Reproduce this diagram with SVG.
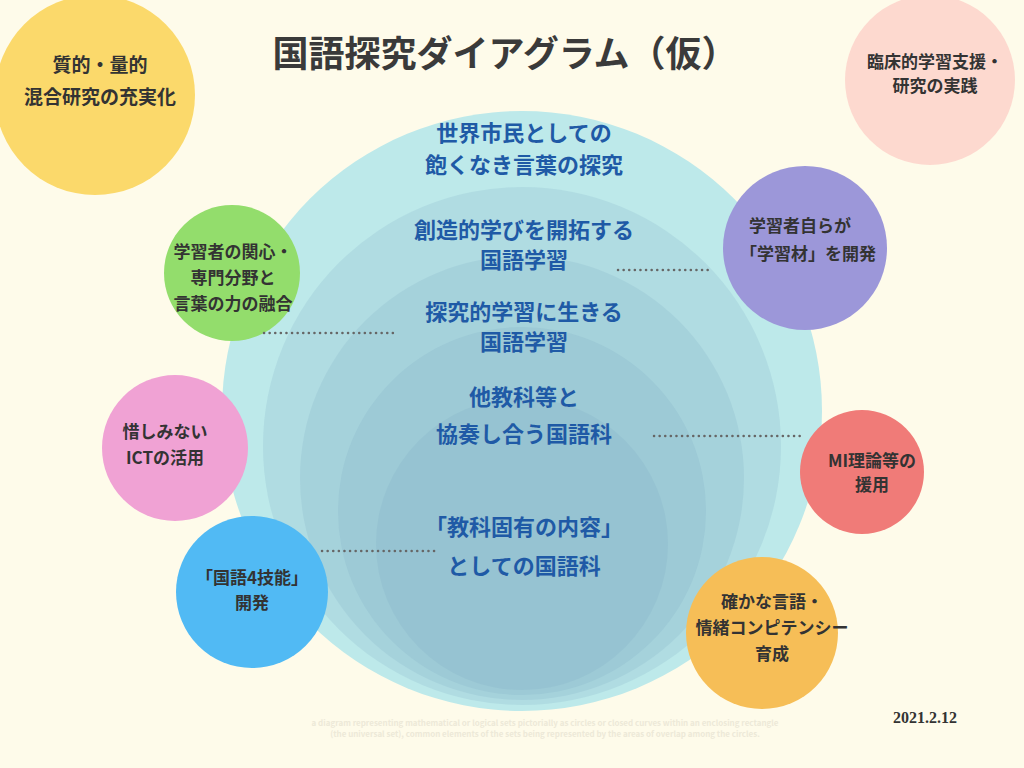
<svg xmlns="http://www.w3.org/2000/svg" width="1024" height="768" viewBox="0 0 1024 768">
<style>
text{font-family:"Noto Sans CJK JP","Noto Sans",sans-serif;font-weight:bold;text-anchor:middle}
.in{fill:#1f5aa6;font-size:22px}
.sd{fill:#333;font-size:17px}
.big{fill:#333;font-size:19px}
.ring{fill:#7fa9c4;fill-opacity:0.2}
.dot{stroke:#666;stroke-width:2.5;stroke-dasharray:0.1 5.5;stroke-linecap:round;fill:none}
</style>
<rect width="1024" height="768" fill="#fefbea"/>
<g id="sets">
<circle cx="522" cy="411" r="300" fill="#bde9ea"/>
<circle class="ring" cx="522" cy="446" r="259"/>
<circle class="ring" cx="522" cy="478" r="222"/>
<circle class="ring" cx="522" cy="511" r="184"/>
<circle class="ring" cx="522" cy="544" r="146"/>
</g>
<g id="n-yellow"><circle cx="95" cy="95" r="100" fill="#fbd96b"/><text class="big" x="100" y="72">質的・量的</text><text class="big" x="100" y="104">混合研究の充実化</text></g>
<g id="n-peach"><circle cx="930" cy="80" r="85" fill="#fdd9cf"/><text class="sd" x="935" y="68">臨床的学習支援・</text><text class="sd" x="935" y="92">研究の実践</text></g>
<g id="n-green"><circle cx="232" cy="273" r="68" fill="#93dd6c"/><text class="sd" x="233" y="258">学習者の関心・</text><text class="sd" x="233" y="284">専門分野と</text><text class="sd" x="233" y="310">言葉の力の融合</text></g>
<g id="n-purple"><circle cx="805" cy="248" r="82" fill="#9c97d9"/><text class="sd" x="800" y="232">学習者自らが</text><text class="sd" x="808" y="260">「学習材」を開発</text></g>
<g id="n-pink"><circle cx="175" cy="448" r="73" fill="#f0a2d4"/><text class="sd" x="165" y="438">惜しみない</text><text class="sd" x="165" y="464">ICTの活用</text></g>
<g id="n-red"><circle cx="862" cy="472" r="62" fill="#f07b78"/><text class="sd" x="872" y="467">MI理論等の</text><text class="sd" x="872" y="491">援用</text></g>
<g id="n-blue"><circle cx="252" cy="592" r="76" fill="#51baf4"/><text class="sd" x="252" y="584">「国語4技能」</text><text class="sd" x="252" y="609">開発</text></g>
<g id="n-orange"><circle cx="762" cy="633" r="76" fill="#f6be57"/><text class="sd" x="772" y="608">確かな言語・</text><text class="sd" x="772" y="634">情緒コンピテンシー</text><text class="sd" x="772" y="660">育成</text></g>
<g id="labels">
<text class="in" x="524" y="141">世界市民としての</text>
<text class="in" x="524" y="173">飽くなき言葉の探究</text>
<text class="in" x="524" y="238">創造的学びを開拓する</text>
<text class="in" x="524" y="268">国語学習</text>
<text class="in" x="524" y="320">探究的学習に生きる</text>
<text class="in" x="524" y="350">国語学習</text>
<text class="in" x="524" y="405">他教科等と</text>
<text class="in" x="524" y="442">協奏し合う国語科</text>
<text class="in" x="524" y="535">「教科固有の内容」</text>
<text class="in" x="524" y="574">としての国語科</text>
</g>
<g id="connectors">
<line class="dot" x1="264" y1="333" x2="395" y2="333"/>
<line class="dot" x1="618" y1="270" x2="708" y2="270"/>
<line class="dot" x1="654" y1="436" x2="805" y2="436"/>
<line class="dot" x1="322" y1="551" x2="435" y2="551"/>
</g>
<text x="505" y="67" style="font-size:36px;fill:#3a3a3a">国語探究ダイアグラム（仮）</text>
<text x="925" y="723" style="font-family:'Liberation Serif',serif;font-size:16px;fill:#333">2021.2.12</text>
<g style="font-family:'Open Sans',sans-serif;font-weight:normal;font-size:8px;fill:#ede9d8">
<text x="545" y="726">a diagram representing mathematical or logical sets pictorially as circles or closed curves within an enclosing rectangle</text>
<text x="545" y="737">(the universal set), common elements of the sets being represented by the areas of overlap among the circles.</text>
</g>
</svg>
